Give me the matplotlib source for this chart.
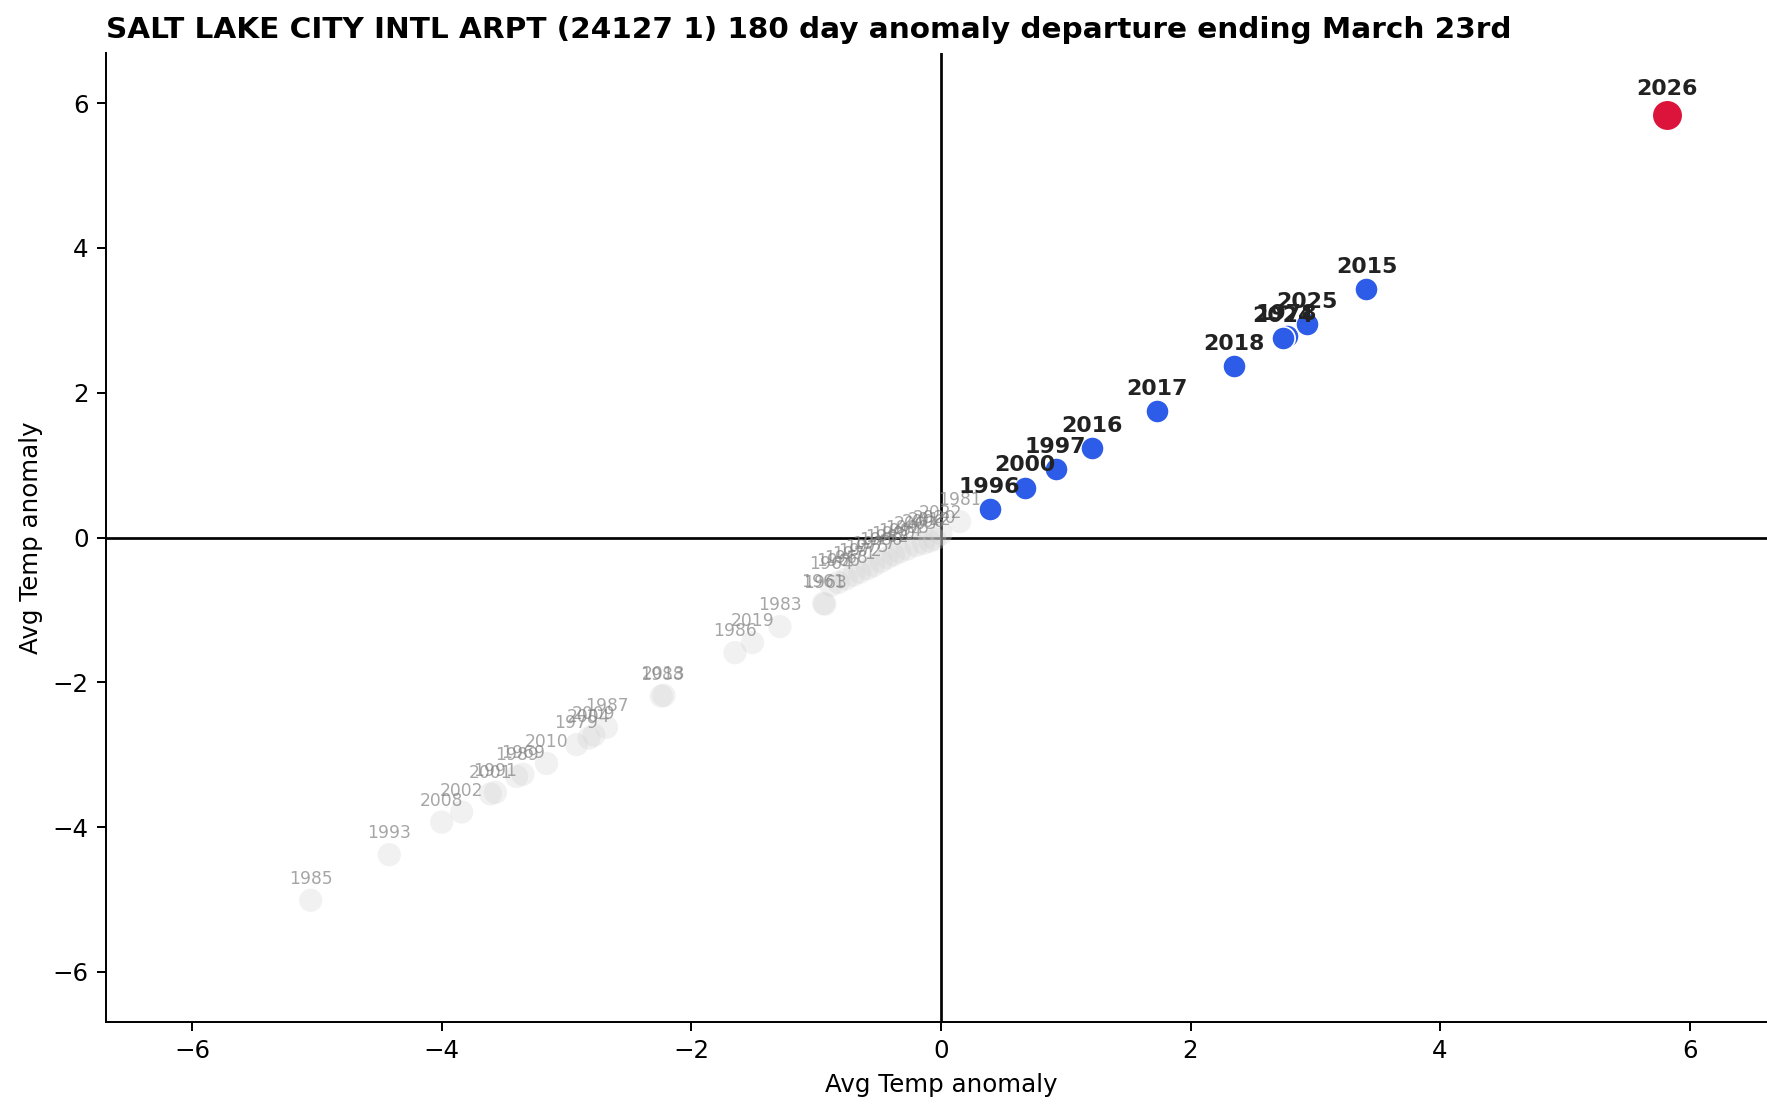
import matplotlib
matplotlib.use("Agg")
from matplotlib import pyplot as plt

### Data
title = 'SALT LAKE CITY INTL ARPT (24127 1) 180 day anomaly departure ending March 23rd'

# top ten years (blue)
top_years = [1996, 2000, 1997, 2016, 2017, 2018, 1978, 2024, 2025, 2015]
top_x = [0.39, 0.67, 0.92, 1.21, 1.73, 2.35, 2.77, 2.74, 2.93, 3.41]
top_y = [0.39, 0.69, 0.94, 1.23, 1.75, 2.37, 2.78, 2.75, 2.95, 3.43]

# current year (red)
cur_year = 2026
cur_x = 5.82
cur_y = 5.83

# every other year (grey)
other_years = [1985, 1993, 2008, 2002, 2001, 1991, 1989, 1969, 2010, 1979,
               2004, 2009, 1987, 1988, 2013, 1986, 2019, 1983, 1961, 1963,
               1964, 1966, 1968, 1971, 1972, 1975, 1977, 1980, 1982, 1990,
               1994, 1998, 2003, 2006, 2012, 2020, 2022, 1981]
other_x = [-5.05, -4.42, -4.00, -3.84, -3.61, -3.57, -3.40, -3.35, -3.16, -2.92,
           -2.82, -2.78, -2.68, -2.24, -2.22, -1.65, -1.51, -1.29, -0.94, -0.93,
           -0.88, -0.82, -0.76, -0.70, -0.65, -0.59, -0.54, -0.48, -0.43, -0.38,
           -0.33, -0.27, -0.20, -0.14, -0.09, -0.05, 0.00, 0.15]
other_y = [-5.01, -4.38, -3.93, -3.79, -3.54, -3.52, -3.30, -3.27, -3.12, -2.86,
           -2.77, -2.73, -2.62, -2.19, -2.18, -1.59, -1.45, -1.23, -0.91, -0.92,
           -0.66, -0.62, -0.57, -0.52, -0.48, -0.43, -0.39, -0.33, -0.28, -0.24,
           -0.20, -0.16, -0.11, -0.08, -0.05, -0.02, 0.05, 0.22]

### Make Figure
dpi = 176.7
fig = plt.figure(figsize=(1767/dpi, 1106/dpi), dpi=dpi)
ax = fig.add_axes([0.060, 0.076, 0.945, 0.876])

lim = 6.69
ax.set_xlim(-lim, lim)
ax.set_ylim(-lim, lim)

ax.axhline(0, color='black', lw=1.1, zorder=1)
ax.axvline(0, color='black', lw=1.1, zorder=1)

# grey years
ax.scatter(other_x, other_y, s=90, color='lightgray', alpha=0.3, edgecolor='none', zorder=2)
for yr, x, y in zip(other_years, other_x, other_y):
    ax.annotate(str(yr), (x, y), xytext=(0, 5), textcoords='offset points',
                ha='center', va='bottom', fontsize=7, color='gray', alpha=0.7, zorder=3)

# top years
ax.scatter(top_x, top_y, s=90, color='#2d5ce8', edgecolor='white', linewidth=0.7, zorder=4)
for yr, x, y in zip(top_years, top_x, top_y):
    ax.annotate(str(yr), (x, y), xytext=(0, 5), textcoords='offset points',
                ha='center', va='bottom', fontsize=9, fontweight='bold', color='#222222', zorder=5)

# current year
ax.scatter([cur_x], [cur_y], s=156, color='crimson', edgecolor='white', linewidth=0.7, zorder=4)
ax.annotate(str(cur_year), (cur_x, cur_y), xytext=(0, 6.5), textcoords='offset points',
            ha='center', va='bottom', fontsize=9, fontweight='bold', color='#222222', zorder=5)

ax.set_xticks([-6, -4, -2, 0, 2, 4, 6])
ax.set_yticks([-6, -4, -2, 0, 2, 4, 6])
ax.spines['top'].set_visible(False)
ax.spines['right'].set_visible(False)
ax.set_xlabel('Avg Temp anomaly')
ax.set_ylabel('Avg Temp anomaly')
ax.set_title(title, loc='left', fontweight='bold')

fig.savefig('out.png', dpi=dpi)
